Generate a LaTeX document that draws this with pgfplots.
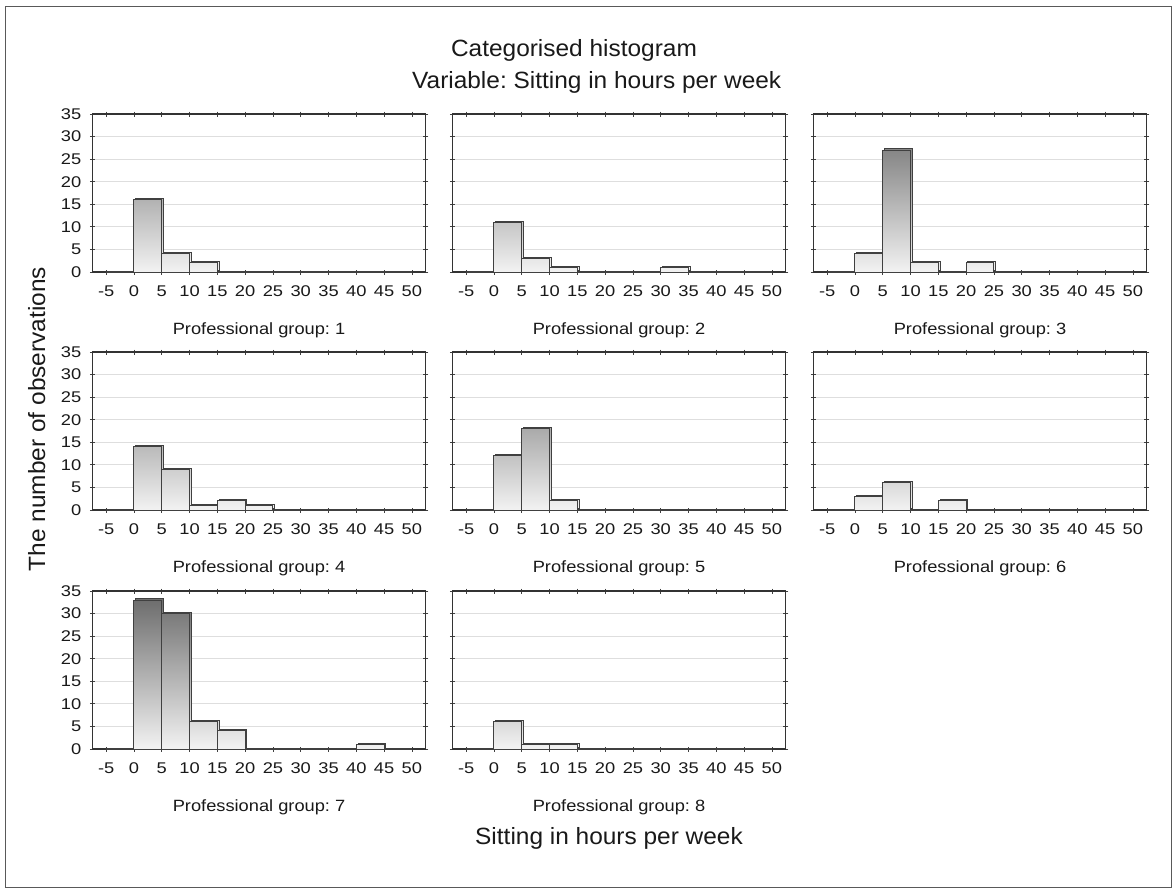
\documentclass[border=0pt]{standalone}
\usepackage{fontspec}
\setmainfont{Liberation Sans}[FakeStretch=1.12]
\newfontfamily\bigfont{Liberation Sans}[FakeStretch=1.04]
\newfontfamily\tickfont{Liberation Sans}[FakeStretch=1.18]
\usepackage{pgfplots}
\pgfplotsset{compat=1.18}
\usetikzlibrary{shadows}
\frenchspacing

\pgfplotsset{
  panel/.style={
    scale only axis, width=333.5pt, height=158pt,
    anchor=south west,
    xmin=-7.5, xmax=52.5, ymin=0, ymax=35,
    xtick={-5,0,...,50}, ytick={0,5,...,35},
    ymajorgrids, grid style={black!13, line width=1.2pt},
    axis line style={black!80, line width=1.1pt},
    major tick style={black!75, line width=0.8pt},
    major tick length=5pt, tick align=center,
    tick label style={font=\tickfont\fontsize{15.5}{16}\selectfont, text=black!90},
    /pgf/number format/assume math mode=true,
    xticklabel style={yshift=-8pt},
    yticklabel style={xshift=-5pt},
    xlabel style={font=\fontsize{16.3}{17}\selectfont, text=black!90,
      at={(axis description cs:0.5,0)}, anchor=base, yshift=-62pt},
  },
  noylab/.style={yticklabels={}},
  hbar/.style={ybar interval, draw=black!75, line width=1pt, bottom color=black!5,
    drop shadow={shadow xshift=1.8pt, shadow yshift=1.2pt, fill=black!14, opacity=1}},
  base/.style={black!75, line width=1.2pt},
}

\begin{document}
\begin{tikzpicture}
\path[use as bounding box] (0,0) rectangle (1172pt,-888pt);
\draw[black!65, line width=1pt] (5.7pt,-6.7pt) rectangle (1171pt,-887pt);

\node[font=\bigfont\fontsize{23.5}{28}\selectfont, text=black!90, anchor=base] at (574pt,-57pt) {Categorised histogram};
\node[font=\bigfont\fontsize{23.5}{28}\selectfont, text=black!90, anchor=base] at (596.7pt,-89pt) {Variable: Sitting in hours per week};
\node[font=\bigfont\fontsize{23.5}{28}\selectfont, text=black!90, anchor=base] at (609pt,-844pt) {Sitting in hours per week};
\node[font=\bigfont\fontsize{23.5}{28}\selectfont, text=black!90, anchor=base, rotate=90] at (45pt,-419pt) {The number of observations};

% Panel 1
\begin{axis}[panel, at={(92.3pt,-272pt)}, xlabel={Professional group: 1}]
\addplot[base] coordinates {(-5,0) (50,0)};
\addplot[hbar, top color=black!30.1] coordinates {(0,16) (5,16)};
\addplot[hbar, top color=black!11.3] coordinates {(5,4) (10,4)};
\addplot[hbar, top color=black!8.1] coordinates {(10,2) (15,2)};
\end{axis}

% Panel 2
\begin{axis}[panel, noylab, at={(452.3pt,-272pt)}, xlabel={Professional group: 2}]
\addplot[base] coordinates {(-5,0) (50,0)};
\addplot[hbar, top color=black!22.3] coordinates {(0,11) (5,11)};
\addplot[hbar, top color=black!9.7] coordinates {(5,3) (10,3)};
\addplot[hbar, top color=black!6.6] coordinates {(10,1) (15,1)};
\addplot[hbar, top color=black!6.6] coordinates {(30,1) (35,1)};
\end{axis}

% Panel 3
\begin{axis}[panel, noylab, at={(813.3pt,-272pt)}, xlabel={Professional group: 3}]
\addplot[base] coordinates {(-5,0) (50,0)};
\addplot[hbar, top color=black!11.3] coordinates {(0,4) (5,4)};
\addplot[hbar, top color=black!47.4] coordinates {(5,27) (10,27)};
\addplot[hbar, top color=black!8.1] coordinates {(10,2) (15,2)};
\addplot[hbar, top color=black!8.1] coordinates {(20,2) (25,2)};
\end{axis}

% Panel 4
\begin{axis}[panel, at={(92.3pt,-510pt)}, xlabel={Professional group: 4}]
\addplot[base] coordinates {(-5,0) (50,0)};
\addplot[hbar, top color=black!27] coordinates {(0,14) (5,14)};
\addplot[hbar, top color=black!19.1] coordinates {(5,9) (10,9)};
\addplot[hbar, top color=black!6.6] coordinates {(10,1) (15,1)};
\addplot[hbar, top color=black!8.1] coordinates {(15,2) (20,2)};
\addplot[hbar, top color=black!6.6] coordinates {(20,1) (25,1)};
\end{axis}

% Panel 5
\begin{axis}[panel, noylab, at={(452.3pt,-510pt)}, xlabel={Professional group: 5}]
\addplot[base] coordinates {(-5,0) (50,0)};
\addplot[hbar, top color=black!23.9] coordinates {(0,12) (5,12)};
\addplot[hbar, top color=black!33.3] coordinates {(5,18) (10,18)};
\addplot[hbar, top color=black!8.1] coordinates {(10,2) (15,2)};
\end{axis}

% Panel 6
\begin{axis}[panel, noylab, at={(813.3pt,-510pt)}, xlabel={Professional group: 6}]
\addplot[base] coordinates {(-5,0) (50,0)};
\addplot[hbar, top color=black!9.7] coordinates {(0,3) (5,3)};
\addplot[hbar, top color=black!14.4] coordinates {(5,6) (10,6)};
\addplot[hbar, top color=black!8.1] coordinates {(15,2) (20,2)};
\end{axis}

% Panel 7
\begin{axis}[panel, at={(92.3pt,-749pt)}, xlabel={Professional group: 7}]
\addplot[base] coordinates {(-5,0) (50,0)};
\addplot[hbar, top color=black!56.9] coordinates {(0,33) (5,33)};
\addplot[hbar, top color=black!52.1] coordinates {(5,30) (10,30)};
\addplot[hbar, top color=black!14.4] coordinates {(10,6) (15,6)};
\addplot[hbar, top color=black!11.3] coordinates {(15,4) (20,4)};
\addplot[hbar, top color=black!6.6] coordinates {(40,1) (45,1)};
\end{axis}

% Panel 8
\begin{axis}[panel, noylab, at={(452.3pt,-749pt)}, xlabel={Professional group: 8}]
\addplot[base] coordinates {(-5,0) (50,0)};
\addplot[hbar, top color=black!14.4] coordinates {(0,6) (5,6)};
\addplot[hbar, top color=black!6.6] coordinates {(5,1) (10,1)};
\addplot[hbar, top color=black!6.6] coordinates {(10,1) (15,1)};
\end{axis}
\end{tikzpicture}
\end{document}
